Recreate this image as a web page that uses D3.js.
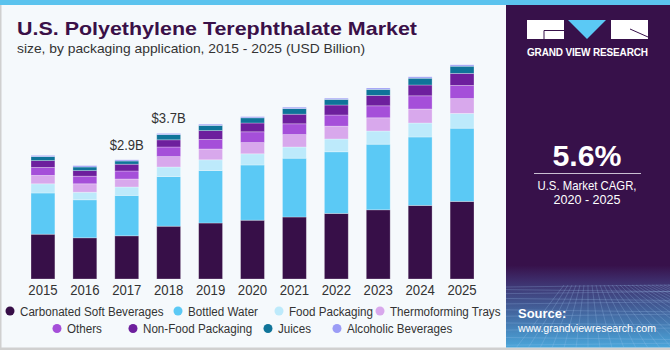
<!DOCTYPE html>
<html>
<head>
  <meta charset="UTF-8">
  <title>U.S. PET Market</title>
  <script src="https://d3js.org/d3.v7.min.js"></script>
  <style>
    body { margin: 0; background: #f5f9fc; }
    svg { display: block; font-family: "Liberation Sans", Arial, sans-serif; }
  </style>
</head>
<body>
<script>
  // values in USD billion
  var years = ["2015", "2016", "2017", "2018", "2019", "2020", "2021", "2022", "2023", "2024", "2025"];
  var carbonated = [1.12, 1.03, 1.08, 1.32, 1.40, 1.47, 1.55, 1.64, 1.73, 1.84, 1.94];
  var bottledWater = [1.03, 0.95, 1.01, 1.24, 1.31, 1.38, 1.47, 1.54, 1.64, 1.71, 1.83];
  var foodPackaging = [0.23, 0.19, 0.21, 0.24, 0.27, 0.28, 0.28, 0.32, 0.33, 0.35, 0.37];
  var thermoforming = [0.21, 0.21, 0.20, 0.26, 0.27, 0.28, 0.31, 0.32, 0.33, 0.35, 0.37];
  var others = [0.20, 0.19, 0.20, 0.24, 0.24, 0.27, 0.27, 0.28, 0.30, 0.33, 0.33];
  var nonFood = [0.17, 0.14, 0.17, 0.18, 0.22, 0.22, 0.24, 0.25, 0.26, 0.27, 0.30];
  var juices = [0.10, 0.09, 0.08, 0.13, 0.13, 0.13, 0.14, 0.14, 0.15, 0.17, 0.18];
  var alcoholic = [0.03, 0.035, 0.03, 0.03, 0.03, 0.03, 0.035, 0.03, 0.035, 0.035, 0.035];

  var seriesNames = ["Carbonated Soft Beverages", "Bottled Water", "Food Packaging", "Thermoforming Trays",
    "Others", "Non-Food Packaging", "Juices", "Alcoholic Beverages"];
  var seriesValues = [carbonated, bottledWater, foodPackaging, thermoforming, others, nonFood, juices, alcoholic];
  var colors = ["#370f48", "#5bc9f5", "#bdeafb", "#d8a8ec", "#a54fd9", "#6d1f9d", "#0f7499", "#9b9cf6"];

  var labelYears = ["2017", "2018"];
  var labelTexts = ["$2.9B", "$3.7B"];

  var width = 670, height = 350;

  // the original font is narrower than Liberation Sans, squeeze text a bit
  function condense(sel, k) {
    sel.each(function () {
      var len = this.getComputedTextLength();
      d3.select(this).attr("textLength", len * k).attr("lengthAdjust", "spacingAndGlyphs");
    });
  }

  var svg = d3.select("body").append("svg")
    .attr("width", width)
    .attr("height", height);

  // background + borders
  svg.append("rect").attr("width", width).attr("height", height).attr("fill", "#f5f9fc");
  svg.append("rect").attr("x", 0).attr("y", 0).attr("width", 1.5).attr("height", height).attr("fill", "#d0d0d0");
  svg.append("rect").attr("x", 0).attr("y", 347.5).attr("width", width).attr("height", 2.5).attr("fill", "#d0d0d0");

  // table for the stack
  var table = years.map(function (y, i) {
    var row = { year: y };
    seriesNames.forEach(function (n, j) { row[n] = seriesValues[j][i]; });
    return row;
  });
  var stacked = d3.stack().keys(seriesNames)(table);

  var x = d3.scaleBand().domain(years).range([22, 483]).paddingInner(0.43).paddingOuter(0.215);
  var y = d3.scaleLinear().domain([0, 6]).range([279, 39]);

  svg.append("g")
    .selectAll("g")
    .data(stacked)
    .enter()
    .append("g")
    .attr("fill", function (d, i) { return colors[i]; })
    .selectAll("rect")
    .data(function (d) { return d; })
    .enter()
    .append("rect")
    .attr("x", function (d) { return x(d.data.year); })
    .attr("y", function (d) { return y(d[1]); })
    .attr("width", x.bandwidth())
    .attr("height", function (d) { return y(d[0]) - y(d[1]); })
    .attr("stroke", "#ffffff")
    .attr("stroke-opacity", 0.35)
    .attr("stroke-width", 0.8);

  // year axis
  var xAxis = d3.axisBottom(x).tickSize(0).tickPadding(6);
  var gx = svg.append("g").attr("transform", "translate(0,279)").call(xAxis);
  gx.select(".domain").remove();
  gx.selectAll("text").attr("font-size", "14px").attr("fill", "#333").attr("font-family", "Liberation Sans, Arial, sans-serif");
  condense(gx.selectAll("text"), 0.94);

  // value labels
  var totals = table.map(function (r) { return d3.sum(seriesNames, function (n) { return r[n]; }); });
  var vl = svg.append("g")
    .selectAll("text")
    .data(labelYears)
    .enter()
    .append("text")
    .attr("x", function (d) { return x(d) + x.bandwidth() / 2; })
    .attr("y", function (d) { return y(totals[years.indexOf(d)]) - 10; })
    .attr("text-anchor", "middle")
    .attr("font-size", "14.5px")
    .attr("fill", "#333")
    .text(function (d, i) { return labelTexts[i]; });
  condense(vl, 0.9);

  // title
  svg.append("rect").attr("x", 0).attr("y", 0).attr("width", width).attr("height", 5).attr("fill", "#5bc3ee");
  svg.append("text").attr("x", 17).attr("y", 35)
    .attr("font-size", "19px").attr("font-weight", "bold").attr("fill", "#3a1048")
    .attr("textLength", 400).attr("lengthAdjust", "spacingAndGlyphs")
    .text("U.S. Polyethylene Terephthalate Market");
  svg.append("text").attr("x", 17).attr("y", 53)
    .attr("font-size", "13.5px").attr("fill", "#333")
    .attr("textLength", 348).attr("lengthAdjust", "spacingAndGlyphs")
    .text("size, by packaging application, 2015 - 2025 (USD Billion)");

  // legend
  var legendX = [10, 178, 279, 380, 57, 133, 268, 337];
  var legendY = [311, 311, 311, 311, 328.5, 328.5, 328.5, 328.5];
  var lg = svg.append("g").selectAll("g")
    .data(seriesNames)
    .enter()
    .append("g")
    .attr("transform", function (d, i) { return "translate(" + legendX[i] + "," + legendY[i] + ")"; });
  lg.append("circle").attr("r", 4.5).attr("fill", function (d, i) { return colors[i]; });
  var lt = lg.append("text").attr("x", 10).attr("y", 4.5)
    .attr("font-size", "12.5px").attr("fill", "#333")
    .text(function (d) { return d; });
  condense(lt, 0.93);

  // right panel
  var panel = svg.append("g").attr("transform", "translate(506,5)");
  var defs = svg.append("defs");
  var grad = defs.append("linearGradient").attr("id", "panelGrad").attr("x1", 0).attr("y1", 0).attr("x2", 0).attr("y2", 1);
  grad.append("stop").attr("offset", "0").attr("stop-color", "#37114a");
  grad.append("stop").attr("offset", "0.76").attr("stop-color", "#37114a");
  grad.append("stop").attr("offset", "0.80").attr("stop-color", "#3d2a68");
  grad.append("stop").attr("offset", "1").attr("stop-color", "#4aa6da");
  panel.append("rect").attr("width", 164).attr("height", 342.5).attr("fill", "url(#panelGrad)");

  // faint grid at the panel bottom
  var gridG = panel.append("g").attr("stroke", "#9fc4ee").attr("stroke-opacity", 0.35).attr("stroke-width", 0.7);
  d3.range(0, 12).forEach(function (k) {
    var yy = 282 + Math.pow(k, 1.35) * 2.6;
    gridG.append("line").attr("x1", 0).attr("x2", 164).attr("y1", yy).attr("y2", yy + (k % 2 ? 2 : -2));
  });
  d3.range(-6, 22).forEach(function (k) {
    gridG.append("line").attr("x1", 82 + k * 4).attr("y1", 280).attr("x2", 82 + k * 12).attr("y2", 343);
  });

  // logo
  panel.append("rect").attr("x", 21).attr("y", 15).attr("width", 37).attr("height", 19).attr("fill", "#fff");
  panel.append("path").attr("d", "M58,25.5 H38 V34").attr("stroke", "#37114a").attr("stroke-width", 1).attr("fill", "none");
  panel.append("path").attr("d", "M62,15 H100 L81,34 Z").attr("fill", "#5bc9f5");
  panel.append("rect").attr("x", 105).attr("y", 15).attr("width", 37).attr("height", 19).attr("fill", "#fff");
  panel.append("path").attr("d", "M124,24 L142,32").attr("stroke", "#37114a").attr("stroke-width", 1);
  panel.append("text").attr("x", 21).attr("y", 51)
    .attr("font-size", "10px").attr("font-weight", "bold").attr("fill", "#fff")
    .attr("textLength", 121).attr("lengthAdjust", "spacing")
    .text("GRAND VIEW RESEARCH");

  panel.append("text").attr("x", 81).attr("y", 161)
    .attr("text-anchor", "middle").attr("font-size", "29px").attr("font-weight", "bold").attr("fill", "#fff")
    .attr("textLength", 69).attr("lengthAdjust", "spacingAndGlyphs")
    .text("5.6%");
  panel.append("line").attr("x1", 28).attr("x2", 135).attr("y1", 168.5).attr("y2", 168.5)
    .attr("stroke", "#c9c0d2").attr("stroke-width", 1.2);
  panel.append("text").attr("x", 81).attr("y", 185)
    .attr("text-anchor", "middle").attr("font-size", "13.5px").attr("fill", "#fff")
    .attr("textLength", 99).attr("lengthAdjust", "spacingAndGlyphs")
    .text("U.S. Market CAGR,");
  panel.append("text").attr("x", 81).attr("y", 199)
    .attr("text-anchor", "middle").attr("font-size", "13.5px").attr("fill", "#fff")
    .attr("textLength", 67).attr("lengthAdjust", "spacingAndGlyphs")
    .text("2020 - 2025");

  panel.append("text").attr("x", 12).attr("y", 313)
    .attr("font-size", "13px").attr("font-weight", "bold").attr("fill", "#fff")
    .text("Source:");
  panel.append("text").attr("x", 12).attr("y", 327)
    .attr("font-size", "11.5px").attr("fill", "#fff")
    .attr("textLength", 138).attr("lengthAdjust", "spacingAndGlyphs")
    .text("www.grandviewresearch.com");
</script>
</body>
</html>
